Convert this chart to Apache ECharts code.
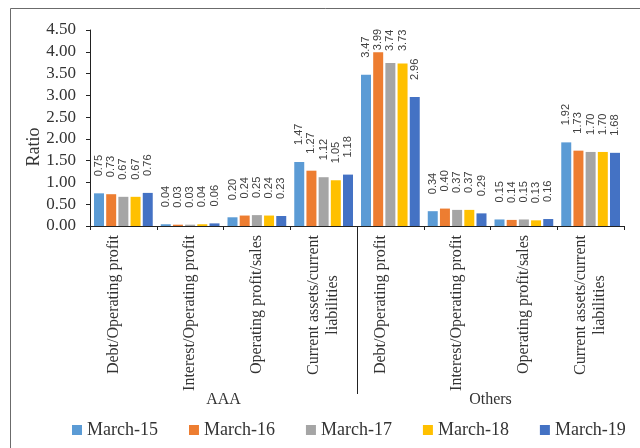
<!DOCTYPE html>
<html>
<head>
<meta charset="utf-8">
<script src="https://cdn.jsdelivr.net/npm/echarts@6/dist/echarts.min.js"></script>
<style>html,body{margin:0;padding:0;background:#fff}#c{width:640px;height:448px}</style>
</head>
<body>
<div id="c"></div>
<script>
var groups = ['AAA', 'Others'];
var metrics = ['Debt/Operating profit\n', 'Interest/Operating profit', 'Operating profit/sales', 'Current assets/current\nliabilities'];
var categories = metrics.concat(metrics);
var seriesNames = ['March-15', 'March-16', 'March-17', 'March-18', 'March-19'];
var march15 = [0.75, 0.04, 0.20, 1.47, 3.47, 0.34, 0.15, 1.92];
var march16 = [0.73, 0.03, 0.24, 1.27, 3.99, 0.40, 0.14, 1.73];
var march17 = [0.67, 0.03, 0.25, 1.12, 3.74, 0.37, 0.15, 1.70];
var march18 = [0.67, 0.04, 0.24, 1.05, 3.73, 0.37, 0.13, 1.70];
var march19 = [0.76, 0.06, 0.23, 1.18, 2.96, 0.29, 0.16, 1.68];
var yTicks = { min: 0, max: 4.5, interval: 0.5 };

var colors = ['#5B9BD5', '#ED7D31', '#A5A5A5', '#FFC000', '#4472C4'];
var values = [march15, march16, march17, march18, march19];
var SERIF = 'Liberation Serif';
var GRID_TOP = 30, GRID_BOTTOM = 222, CHART_H = 448;
var plotH = CHART_H - GRID_TOP - GRID_BOTTOM;
var pxPerUnit = plotH / yTicks.max;

function labelDistance(v) {
  // keep rotated labels inside the plot top
  var room = (plotH - 2 - 21) - v * pxPerUnit + 2;
  return Math.max(2, Math.min(17, room));
}

var chart = echarts.init(document.getElementById('c'), null, { renderer: 'canvas' });

var series = seriesNames.map(function (name, i) {
  return {
    name: name,
    type: 'bar',
    xAxisIndex: 0,
    barGap: '22%',
    barCategoryGap: '12%',
    itemStyle: { color: colors[i] },
    data: values[i].map(function (v) {
      return { value: v, label: { distance: labelDistance(v) } };
    }),
    label: {
      show: true,
      position: 'top',
      rotate: 90,
      align: 'left',
      verticalAlign: 'middle',
      fontFamily: 'Liberation Sans',
      fontSize: 11,
      color: '#404040',
      formatter: function (p) { return p.value.toFixed(2); }
    }
  };
});

chart.setOption({
  animation: false,
  color: colors,
  grid: { left: 90, right: 16, top: GRID_TOP, bottom: GRID_BOTTOM, containLabel: false },
  legend: {
    data: seriesNames,
    left: 67,
    top: 416,
    width: 580,
    itemWidth: 10,
    itemHeight: 10,
    itemGap: 31,
    icon: 'rect',
    textStyle: { fontFamily: SERIF, fontSize: 18, color: '#333' }
  },
  xAxis: [{
    type: 'category',
    data: categories,
    axisLine: { show: true, lineStyle: { color: '#222', width: 1 } },
    axisTick: { show: true, length: 4, lineStyle: { color: '#222' } },
    axisLabel: {
      interval: 0,
      rotate: 90,
      margin: 9,
      color: '#333',
      formatter: function (val) {
        return val.split('\n').map(function (l) { return '{c|' + (l || ' ') + '}'; }).join('\n');
      },
      rich: { c: { align: 'center', fontFamily: SERIF, fontSize: 16, lineHeight: 19, color: '#333' } }
    }
  }, {
    type: 'category',
    data: groups,
    position: 'bottom',
    offset: 158,
    gridIndex: 0,
    axisLine: { show: false },
    axisTick: { show: false },
    axisLabel: { interval: 0, margin: 8, fontFamily: SERIF, fontSize: 16, color: '#333' }
  }],
  yAxis: {
    type: 'value',
    min: yTicks.min,
    max: yTicks.max,
    interval: yTicks.interval,
    name: 'Ratio',
    nameLocation: 'middle',
    nameGap: 47,
    nameMoveOverlap: false,
    nameTextStyle: { fontFamily: SERIF, fontSize: 18, color: '#333', padding: [0, 38, 0, 0] },
    axisLine: { show: true, lineStyle: { color: '#222', width: 1 } },
    axisTick: { show: true, length: 4, lineStyle: { color: '#222' } },
    splitLine: { show: false },
    axisLabel: {
      margin: 14,
      fontFamily: SERIF,
      fontSize: 17,
      color: '#333',
      formatter: function (v) { return v.toFixed(2); }
    }
  },
  series: series
});

// group separator below the axis, from the category scale
var x3 = chart.convertToPixel({ xAxisIndex: 0 }, 3);
var x4 = chart.convertToPixel({ xAxisIndex: 0 }, 4);
var y0 = chart.convertToPixel({ yAxisIndex: 0 }, 0);
chart.setOption({
  graphic: [{
    type: 'rect',
    z: -10,
    shape: { x: 10.5, y: 8.5, width: 640, height: 450 },
    style: { fill: 'none', stroke: '#6b6b6b', lineWidth: 1 }
  }, {
    type: 'line',
    shape: { x1: Math.round((x3 + x4) / 2) + 0.5, y1: y0, x2: Math.round((x3 + x4) / 2) + 0.5, y2: y0 + 168 },
    style: { stroke: '#222', lineWidth: 1 }
  }]
});
</script>
</body>
</html>
